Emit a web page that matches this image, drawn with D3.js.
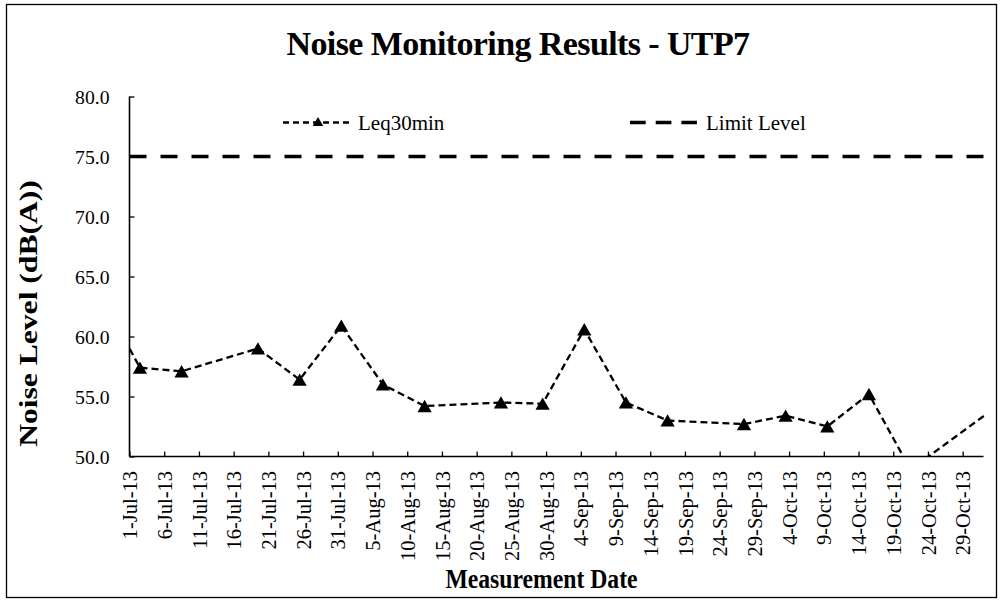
<!DOCTYPE html>
<html>
<head>
<meta charset="utf-8">
<script src="https://cdn.jsdelivr.net/npm/d3@7"></script>
<style>
  html, body { margin: 0; padding: 0; background: #fff; }
  svg { display: block; }
  text { font-family: "Liberation Serif", "Times New Roman", serif; fill: #000; }
</style>
</head>
<body>
<svg id="chart" width="1003" height="603"></svg>
<script>
// ---- data ----
const dates = ["2013-06-26", "2013-07-02", "2013-07-08", "2013-07-19", "2013-07-25", "2013-07-31",
               "2013-08-06", "2013-08-12", "2013-08-23", "2013-08-29", "2013-09-04", "2013-09-10",
               "2013-09-16", "2013-09-27", "2013-10-03", "2013-10-09", "2013-10-15", "2013-10-21",
               "2013-11-02"];
const leq30min = [63.8, 57.4, 57.1, 59.0, 56.4, 60.9,
                  56.0, 54.2, 54.5, 54.4, 60.6, 54.5,
                  53.0, 52.7, 53.4, 52.5, 55.2, 48.9,
                  54.0];
const limitLevel = [75, 75];
const limitDates = ["2013-07-01", "2013-11-01"];
const yTicks = [50, 55, 60, 65, 70, 75, 80];
const xTickStart = "2013-07-01";
const xTickEnd = "2013-10-29";
const titleText = "Noise Monitoring Results - UTP7";
const xTitle = "Measurement Date";
const yTitle = "Noise Level (dB(A))";
const seriesNames = ["Leq30min", "Limit Level"];

// ---- layout ----
const svg = d3.select("#chart");
const parse = d3.timeParse("%Y-%m-%d");
const pLeft = 129.5, pRight = 983.5, pTop = 96.5, pBottom = 456.5;

// points are measured during the day (plotted at midday)
const noon = d => d3.timeHour.offset(parse(d), 12);

const x = d3.scaleTime().domain([parse("2013-07-01"), parse("2013-11-01")]).range([pLeft, pRight]);
const y = d3.scaleLinear().domain([50, 80]).range([pBottom, pTop]);

// outer border
svg.append("rect").attr("x", 6.5).attr("y", 4.5).attr("width", 990).attr("height", 593)
  .attr("fill", "#fff").attr("stroke", "#000").attr("stroke-width", 1.3);

// title
svg.append("text").attr("x", 518).attr("y", 55).attr("text-anchor", "middle")
  .attr("font-size", 34).attr("font-weight", "bold").style("letter-spacing", "-0.6px").text(titleText);

// clip
svg.append("clipPath").attr("id", "plotclip").append("rect")
  .attr("x", pLeft).attr("y", pTop - 10).attr("width", pRight - pLeft + 2).attr("height", pBottom - pTop + 10);

// y axis
const yAxis = d3.axisLeft(y).tickValues(yTicks).tickSize(-5).tickPadding(20).tickFormat(d3.format(".1f"));
const gy = svg.append("g").attr("transform", `translate(${pLeft},0)`).call(yAxis);
gy.select(".domain").remove();
gy.selectAll(".tick line").attr("stroke", "#000").attr("stroke-width", 1.3);
gy.selectAll(".tick text").attr("font-size", 19.7).attr("font-family", "Liberation Serif").attr("dy", "0.35em");
svg.append("line").attr("x1", pLeft).attr("x2", pLeft).attr("y1", pTop).attr("y2", pBottom)
  .attr("stroke", "#000").attr("stroke-width", 1.6);

// x axis
const xTickVals = d3.timeDay.range(parse(xTickStart), d3.timeDay.offset(parse(xTickEnd), 1), 5);
const xAxis = d3.axisBottom(x).tickValues(xTickVals).tickSize(-5).tickPadding(0)
  .tickFormat(d3.timeFormat("%-d-%b-%y"));
const gx = svg.append("g").attr("transform", `translate(0,${pBottom})`).call(xAxis);
gx.select(".domain").remove();
gx.selectAll(".tick line").attr("stroke", "#000").attr("stroke-width", 1.3);
gx.selectAll(".tick text")
  .attr("font-size", 20.5).attr("font-family", "Liberation Serif")
  .attr("text-anchor", "end").attr("transform", "rotate(-90)")
  .attr("x", -14.5).attr("y", 0).attr("dy", "0.35em");
svg.append("line").attr("x1", pLeft).attr("x2", pRight).attr("y1", pBottom).attr("y2", pBottom)
  .attr("stroke", "#000").attr("stroke-width", 1.6);

// axis titles
svg.append("text").attr("transform", "translate(541.5,588) scale(1,1.15)").attr("text-anchor", "middle")
  .attr("font-size", 23.7).attr("font-weight", "bold").text(xTitle);
svg.append("text").attr("transform", "translate(37,313.5) rotate(-90) scale(1.29,1)").attr("text-anchor", "middle")
  .attr("font-size", 24.5).attr("font-weight", "bold").text(yTitle);

// plot layer
const plot = svg.append("g").attr("clip-path", "url(#plotclip)");

// limit line
plot.append("path")
  .datum(limitDates.map((d, i) => ({ d: parse(d), v: limitLevel[i] })))
  .attr("d", d3.line().x(p => x(p.d)).y(p => y(p.v)))
  .attr("fill", "none").attr("stroke", "#000").attr("stroke-width", 3.6)
  .attr("stroke-dasharray", "17,14");

// leq line
const leqData = dates.map((d, i) => ({ d: noon(d), v: leq30min[i] }));
plot.append("path").datum(leqData)
  .attr("d", d3.line().x(p => x(p.d)).y(p => y(p.v)))
  .attr("fill", "none").attr("stroke", "#000").attr("stroke-width", 2.3)
  .attr("stroke-dasharray", "7,4");

// markers
const tri = d3.symbol().type(d3.symbolTriangle).size(88);
svg.append("clipPath").attr("id", "markclip").append("rect")
  .attr("x", pLeft - 8).attr("y", pTop - 10).attr("width", pRight - pLeft + 10).attr("height", pBottom - pTop + 10);
svg.append("g").attr("clip-path", "url(#markclip)")
  .selectAll("path.mk").data(leqData.filter(p => p.v >= 50 && p.d >= parse("2013-07-01") && p.d <= parse("2013-11-01")))
  .join("path").attr("class", "mk")
  .attr("transform", p => `translate(${x(p.d)},${y(p.v) + 2})`)
  .attr("d", tri).attr("fill", "#000");

// legend
const lg = svg.append("g");
lg.append("line").attr("x1", 283).attr("x2", 352).attr("y1", 122.5).attr("y2", 122.5)
  .attr("stroke", "#000").attr("stroke-width", 2.3).attr("stroke-dasharray", "6,4");
lg.append("path").attr("d", d3.symbol().type(d3.symbolTriangle).size(48))
  .attr("transform", "translate(318,123)").attr("fill", "#000");
lg.append("text").attr("x", 358).attr("y", 129.5).attr("font-size", 21).text(seriesNames[0]);
lg.append("line").attr("x1", 630).attr("x2", 697).attr("y1", 122.5).attr("y2", 122.5)
  .attr("stroke", "#000").attr("stroke-width", 3.6).attr("stroke-dasharray", "15.7,10");
lg.append("text").attr("x", 706).attr("y", 129.5).attr("font-size", 21).text(seriesNames[1]);
</script>
</body>
</html>
